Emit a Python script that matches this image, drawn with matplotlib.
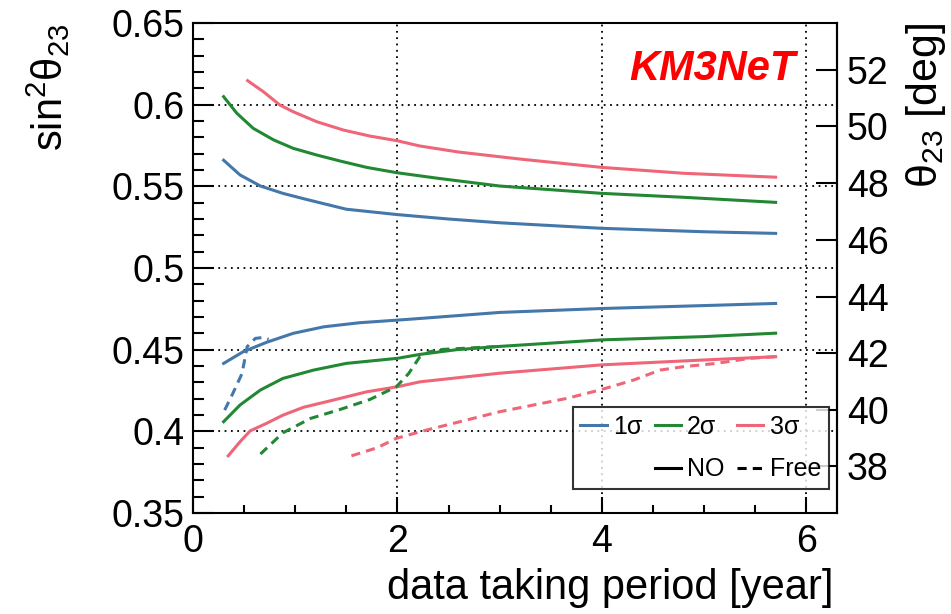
import numpy as np
import matplotlib
matplotlib.use('Agg')
from matplotlib import pyplot as plt
from matplotlib.lines import Line2D
from matplotlib.ticker import MultipleLocator

plt.rcParams['font.family'] = ['Liberation Sans', 'DejaVu Sans']
plt.rcParams['mathtext.fontset'] = 'custom'
plt.rcParams['mathtext.rm'] = 'Liberation Sans'
plt.rcParams['mathtext.it'] = 'Liberation Sans:italic'

# sensitivity bands on sin^2(theta23) vs. data taking time (years), NO fits
t_1s_up = [0.3, 0.46, 0.66, 0.88, 1.11, 1.5, 2.0, 2.5, 3.0, 4.0, 5.0, 5.7]
up_1s = [0.566, 0.557, 0.5502, 0.5457, 0.542, 0.536, 0.5327, 0.530, 0.5277, 0.5243, 0.5222, 0.5212]
t_1s_lo = [0.3, 0.49, 0.72, 0.98, 1.28, 1.63, 2.0, 2.22, 3.0, 4.0, 5.0, 5.7]
lo_1s = [0.4416, 0.4487, 0.4545, 0.46, 0.464, 0.4665, 0.4681, 0.4691, 0.4728, 0.4752, 0.477, 0.4783]

t_2s_up = [0.3, 0.43, 0.59, 0.79, 0.98, 1.21, 1.44, 1.7, 2.0, 2.4, 3.0, 4.0, 4.8, 5.7]
up_2s = [0.6049, 0.5947, 0.5855, 0.5784, 0.5733, 0.5692, 0.5655, 0.5616, 0.5583, 0.5549, 0.5502, 0.5457, 0.5433, 0.5402]
t_2s_lo = [0.3, 0.46, 0.66, 0.88, 1.18, 1.5, 2.0, 2.22, 2.58, 3.0, 4.0, 5.0, 5.7]
lo_2s = [0.4059, 0.4161, 0.4253, 0.4324, 0.4375, 0.4416, 0.4447, 0.4471, 0.45, 0.452, 0.456, 0.458, 0.4601]

t_3s_up = [0.535, 0.69, 0.85, 0.98, 1.21, 1.47, 1.73, 2.0, 2.22, 2.6, 3.2, 4.0, 4.8, 5.7]
up_3s = [0.6147, 0.6079, 0.5998, 0.5957, 0.5896, 0.5845, 0.5808, 0.5779, 0.5747, 0.571, 0.5667, 0.5616, 0.558, 0.5556]
t_3s_lo = [0.345, 0.46, 0.56, 0.72, 0.88, 1.08, 1.37, 1.7, 2.0, 2.22, 3.0, 4.0, 5.0, 5.7]
lo_3s = [0.385, 0.3936, 0.4003, 0.4049, 0.4099, 0.4147, 0.4191, 0.4242, 0.4273, 0.4303, 0.4356, 0.4407, 0.4437, 0.4457]

# free ordering (only the part that departs from NO)
t_1s_free = [0.31, 0.39, 0.48, 0.53, 0.61, 0.69, 0.74]
lo_1s_free = [0.413, 0.4232, 0.4354, 0.4518, 0.4569, 0.4575, 0.4563]
t_2s_free = [0.66, 0.88, 1.15, 1.44, 1.73, 1.99, 2.11, 2.22, 2.32, 2.45, 2.7, 3.0]
lo_2s_free = [0.3861, 0.3991, 0.4079, 0.4134, 0.4195, 0.4273, 0.4354, 0.4457, 0.4488, 0.4502, 0.451, 0.452]
t_3s_free = [1.55, 1.8, 1.99, 2.22, 2.35, 3.0, 3.66, 3.98, 4.31, 4.57, 4.8, 5.12, 5.45, 5.7]
lo_3s_free = [0.385, 0.3899, 0.3957, 0.3997, 0.4018, 0.412, 0.4202, 0.4253, 0.4314, 0.4375, 0.4396, 0.4416, 0.4447, 0.4457]

theta_ticks = [38, 40, 42, 44, 46, 48, 50, 52]

c1, c2, c3 = '#4477AA', '#228833', '#EE6677'
lw = 2.2
dash = (0, (3, 2))

fig = plt.figure(figsize=(9.51, 6.14), dpi=100)
ax = fig.add_axes([0.2029, 0.1645, 0.6772, 0.798])

ax.plot(t_1s_up, up_1s, color=c1, lw=lw)
ax.plot(t_1s_lo, lo_1s, color=c1, lw=lw)
ax.plot(t_2s_up, up_2s, color=c2, lw=lw)
ax.plot(t_2s_lo, lo_2s, color=c2, lw=lw)
ax.plot(t_3s_up, up_3s, color=c3, lw=lw)
ax.plot(t_3s_lo, lo_3s, color=c3, lw=lw)
ax.plot(t_1s_free, lo_1s_free, color=c1, lw=lw, ls=dash)
ax.plot(t_2s_free, lo_2s_free, color=c2, lw=lw, ls=dash)
ax.plot(t_3s_free, lo_3s_free, color=c3, lw=lw, ls=dash)

ax.set_xlim(0, 6.3)
ax.set_ylim(0.35, 0.65)
ax.xaxis.set_major_locator(MultipleLocator(2))
ax.xaxis.set_minor_locator(MultipleLocator(0.5))
ax.yaxis.set_minor_locator(MultipleLocator(0.01))
ax.set_yticks([0.35, 0.4, 0.45, 0.5, 0.55, 0.6, 0.65])
ax.set_yticklabels(['0.35', '0.4', '0.45', '0.5', '0.55', '0.6', '0.65'])

ax.grid(True, which='major', color='black', ls=(0, (1, 2.5)), lw=1.3)
ax.tick_params(axis='both', which='both', direction='in', right=False, top=False,
               width=1.5, labelsize=27)
ax.tick_params(axis='y', which='major', length=15, pad=6)
ax.tick_params(axis='y', which='minor', length=8)
ax.tick_params(axis='x', which='major', length=11.5, pad=8)
ax.tick_params(axis='x', which='minor', length=6)
for sp in ax.spines.values():
    sp.set_linewidth(1.5)

ax.set_xlabel('data taking period [year]', fontsize=30, loc='right')
ax.xaxis.set_label_coords(0.994, -0.112)
ax.set_ylabel(r'sin$^{2}$θ$_{23}$', fontsize=30, loc='top')
ax.yaxis.set_label_coords(-0.188, 1.0)


def to_deg(s):
    return np.degrees(np.arcsin(np.sqrt(np.clip(s, 0, 1))))


def to_s2(d):
    return np.sin(np.radians(d)) ** 2


sec = ax.secondary_yaxis('right', functions=(to_deg, to_s2))
sec.set_yticks(theta_ticks)
sec.tick_params(axis='y', which='major', direction='in', length=15, width=1.5,
                labelsize=27, pad=7)
sec.tick_params(axis='y', which='minor', length=0)
sec.spines['right'].set_linewidth(1.5)
sec.set_ylabel(r'θ$_{23}$ [deg]', fontsize=31, loc='top')
sec.yaxis.set_label_coords(1.104, 1.0, transform=ax.transAxes)

ax.text(0.935, 0.884, 'KM3NeT', transform=ax.transAxes, ha='right', va='baseline',
        color='red', fontsize=30, fontweight='bold', fontstyle='italic')

handles = [Line2D([], [], color=c1, lw=lw), Line2D([], [], color='none'),
           Line2D([], [], color=c2, lw=lw), Line2D([], [], color='black', lw=lw),
           Line2D([], [], color=c3, lw=lw), Line2D([], [], color='black', lw=lw, ls=dash)]
labels = ['1σ', '', '2σ', 'NO', '3σ', 'Free']
leg = ax.legend(handles, labels, ncol=3, loc='lower left', bbox_to_anchor=(0.59, 0.049),
                fontsize=18, frameon=True, fancybox=False, edgecolor='black',
                handlelength=1.05, handletextpad=0.25, columnspacing=0.5,
                labelspacing=0.75, borderpad=0.3, borderaxespad=0.0)
leg.get_frame().set_linewidth(1.5)

fig.savefig('out.png', dpi=100)
